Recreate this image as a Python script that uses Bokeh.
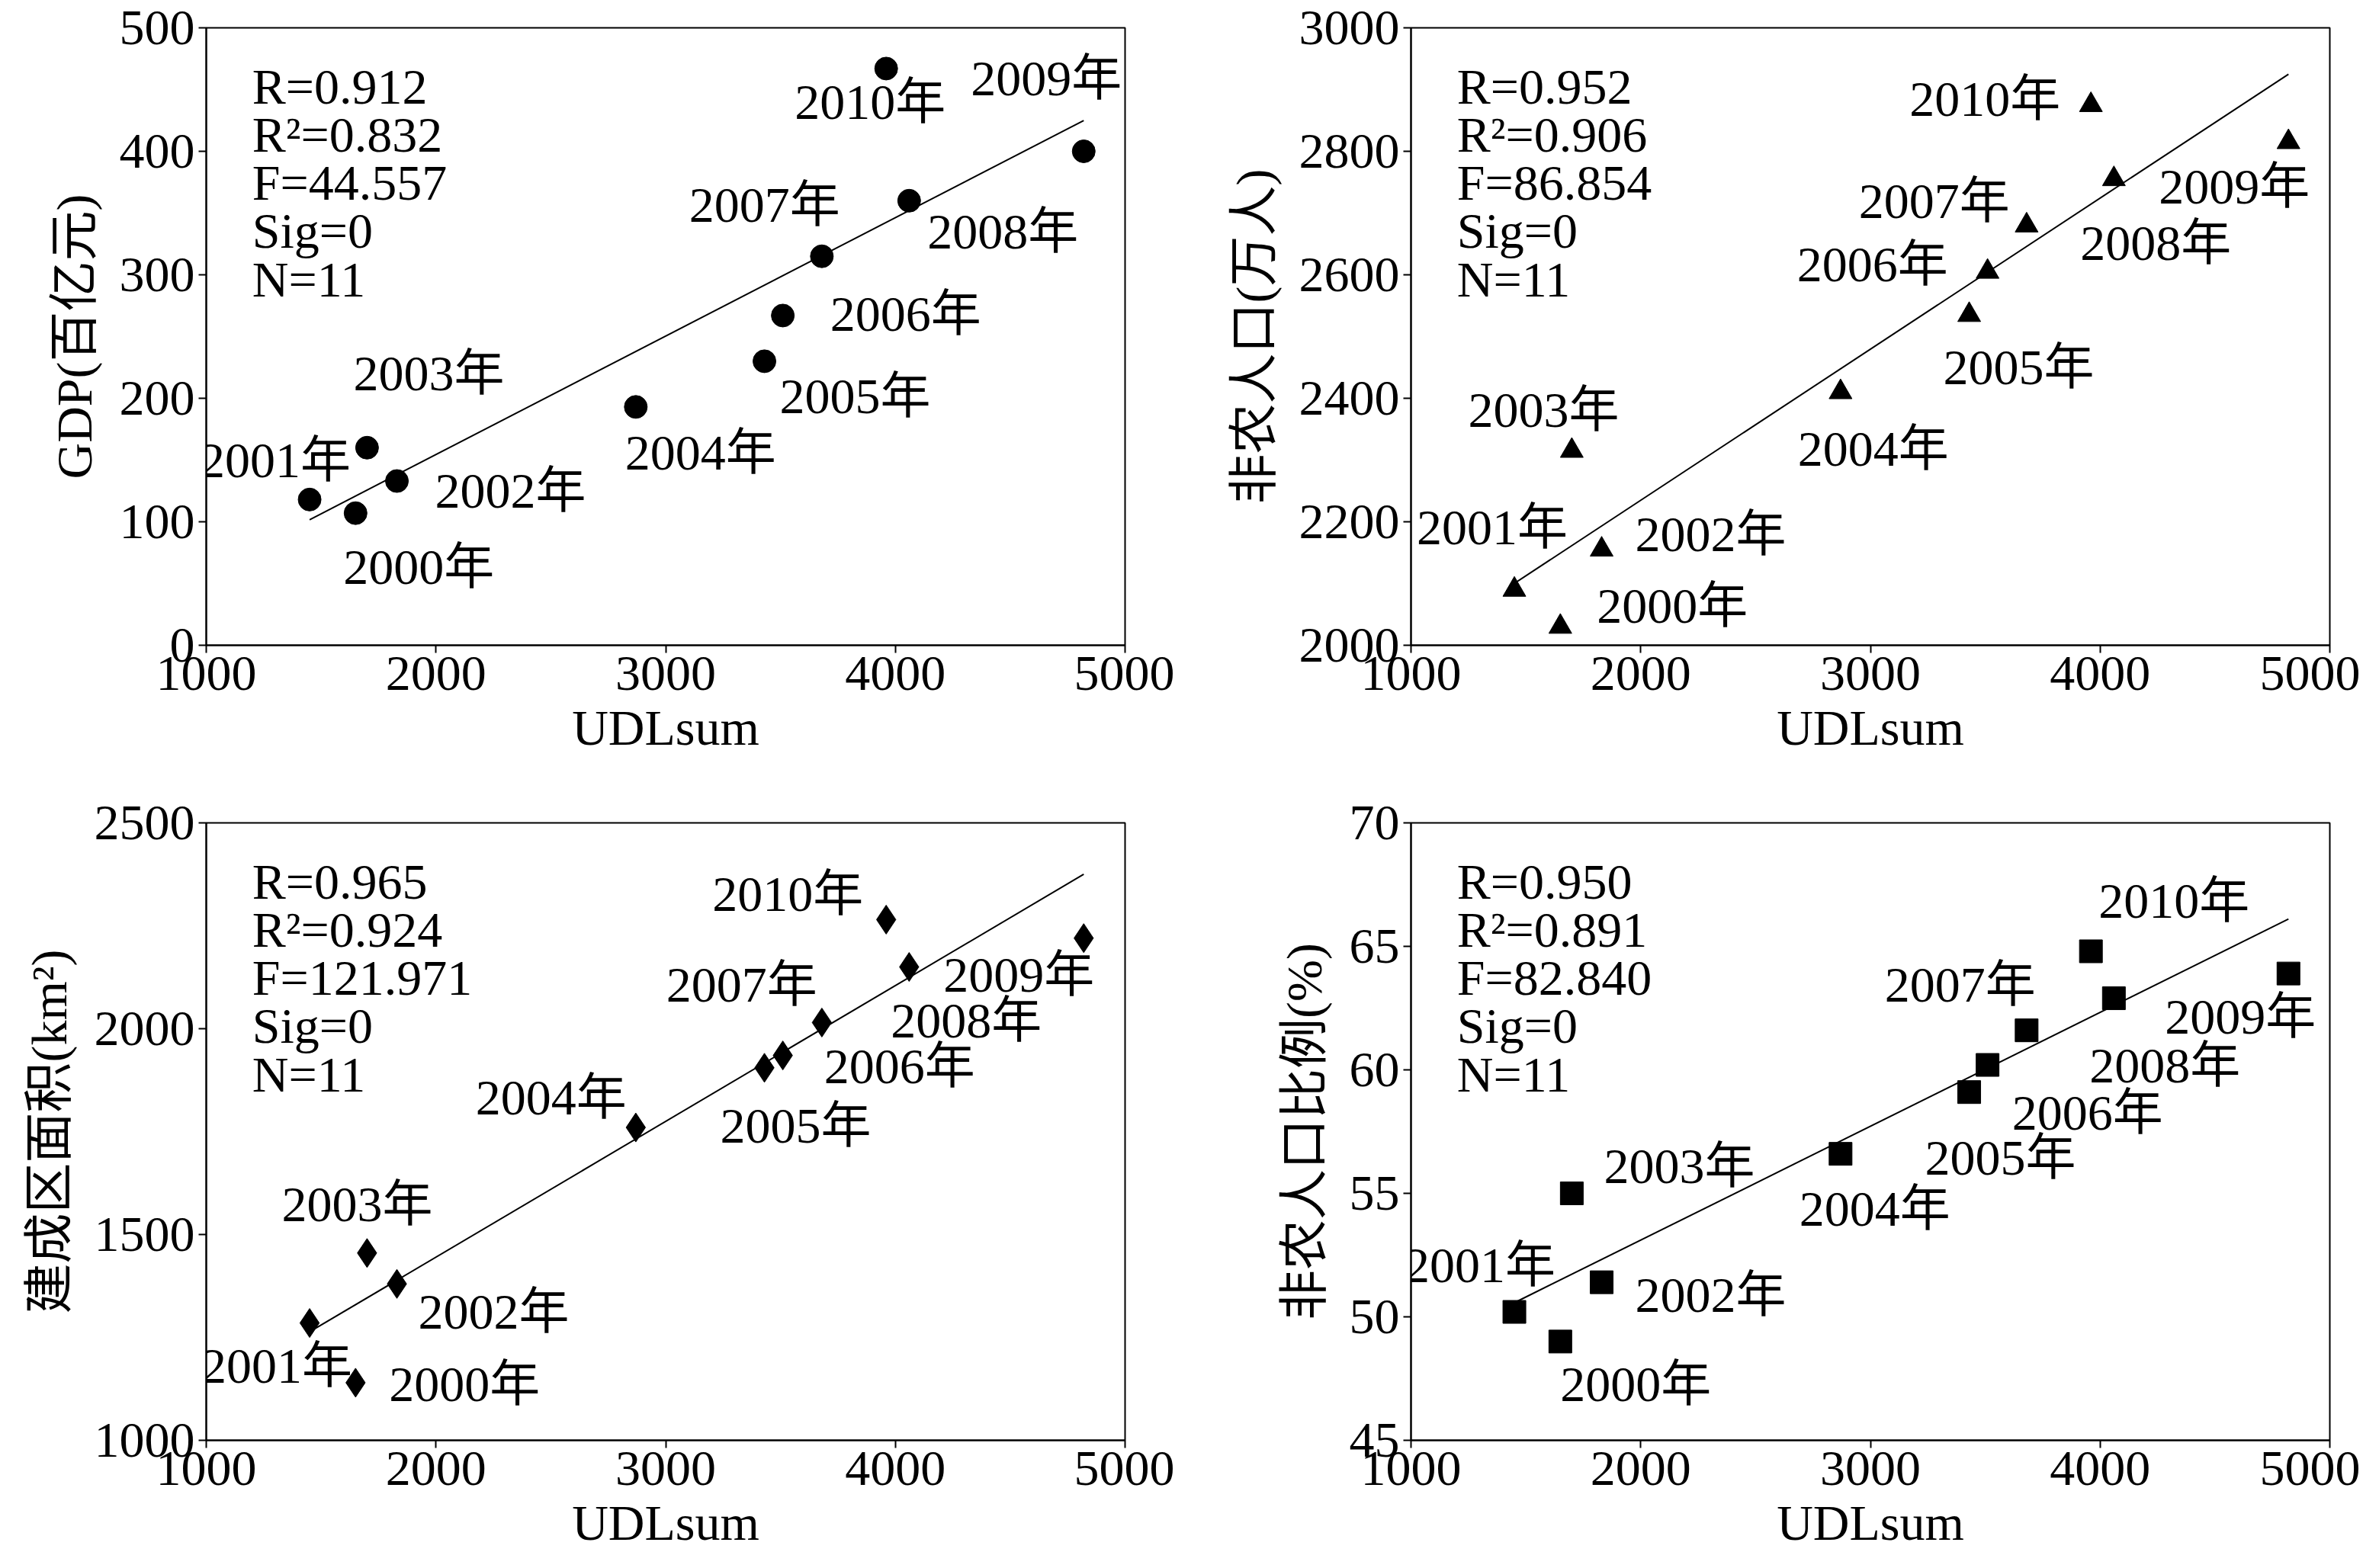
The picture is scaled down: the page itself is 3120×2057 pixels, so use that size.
import numpy as np
from bokeh.plotting import figure
from bokeh.layouts import column, row
from bokeh.models import ColumnDataSource, FixedTicker
from bokeh.core.properties import value
from bokeh.embed import file_html
from bokeh.resources import INLINE

years = ["2000年", "2001年", "2002年", "2003年", "2004年", "2005年", "2006年", "2007年", "2008年", "2009年", "2010年"]
udl = [1650, 1450, 1830, 1700, 2870, 3430, 3510, 3680, 4060, 4820, 3960]
gdp = [107, 118, 133, 160, 193, 230, 267, 315, 360, 400, 467]
pop = [2030, 2090, 2155, 2315, 2410, 2535, 2605, 2680, 2755, 2815, 2875]
built = [1140, 1285, 1380, 1455, 1760, 1905, 1935, 2015, 2150, 2220, 2265]
ratio = [49.0, 50.2, 51.4, 55.0, 56.6, 59.1, 60.2, 61.6, 62.9, 63.9, 64.8]

stats = [
    ["R=0.912", "R²=0.832", "F=44.557", "Sig=0", "N=11"],
    ["R=0.952", "R²=0.906", "F=86.854", "Sig=0", "N=11"],
    ["R=0.965", "R²=0.924", "F=121.971", "Sig=0", "N=11"],
    ["R=0.950", "R²=0.891", "F=82.840", "Sig=0", "N=11"],
]

off1 = [(-8, 35), (-72, -26), (25, 6), (-9, -49), (-7, 30), (10, 23), (31, -1), (-87, -34), (12, 20), (-74, -48), (-60, 22)]
off2 = [(24, -14), (-64, -41), (22, -10), (-68, -27), (-28, 37), (-17, 34), (-125, -5), (-110, -16), (-22, 42), (-85, 29), (-119, -4)]
off3 = [(22, 1), (-71, 28), (14, 18), (-56, -32), (-105, -20), (-29, 38), (27, 7), (-102, -25), (-12, 35), (-92, 24), (-114, -17)]
off4 = [(0, 28), (-72, -31), (22, 8), (21, -18), (-27, 36), (-29, 43), (16, 31), (-93, -30), (-16, 44), (-81, 28), (5, -33)]

FONT = "Liberation Serif, Noto Sans CJK SC"
FS = "66px"

def panel(yvals, ylabel, yr, yticks, marker, offs, st, left, right, top, bottom):
    p = figure(frame_width=1205, frame_height=810, x_range=(1000, 5000), y_range=yr,
               output_backend="svg", toolbar_location=None,
               min_border_left=left, min_border_right=right, min_border_top=top, min_border_bottom=bottom)
    p.xgrid.visible = False
    p.ygrid.visible = False
    p.outline_line_color = "black"
    p.outline_line_width = 2
    p.xaxis.ticker = FixedTicker(ticks=[1000, 2000, 3000, 4000, 5000])
    p.yaxis.ticker = FixedTicker(ticks=yticks)
    p.xaxis.axis_label = "UDLsum"
    p.yaxis.axis_label = ylabel
    for ax in (p.xaxis, p.yaxis):
        ax.major_label_text_font = FONT
        ax.major_label_text_font_size = FS
        ax.axis_label_text_font = FONT
        ax.axis_label_text_font_size = FS
        ax.axis_label_text_font_style = "normal"
        ax.axis_line_color = "black"
        ax.axis_line_width = 2
        ax.major_tick_line_color = "black"
        ax.major_tick_line_width = 2
        ax.major_tick_in = 0
        ax.major_tick_out = 10
        ax.minor_tick_line_color = None
        ax.major_label_text_color = "black"
        ax.axis_label_text_color = "black"
    p.xaxis.axis_label_standoff = 10
    p.yaxis.axis_label_standoff = 20
    x = np.array(udl, float); y = np.array(yvals, float)
    k, b = np.polyfit(x, y, 1)
    xs = np.array([x.min(), x.max()])
    p.line(xs, k * xs + b, line_color="black", line_width=2)
    p.scatter(x, y, marker=marker, size=30 if marker != "diamond" else 38, fill_color="black", line_color="black")
    src = ColumnDataSource(dict(x=udl, y=yvals, t=years,
                                dx=[o[0] * 2 for o in offs], dy=[o[1] * 2 for o in offs]))
    p.text("x", "y", text="t", source=src, x_offset="dx", y_offset="dy",
           text_font=value(FONT), text_font_size=FS, text_align="left",
           text_baseline="middle", text_color="black")
    y0, y1 = yr
    sx = [1000 + 0.05 * 4000] * len(st)
    sy = [y0 + (0.905 - 0.078 * i) * (y1 - y0) for i in range(len(st))]
    p.text(sx, sy, text=st, text_font=value(FONT), text_font_size=FS,
           text_align="left", text_baseline="middle", text_color="black")
    return p

p1 = panel(gdp, "GDP(百亿元)", (0, 500), [0, 100, 200, 300, 400, 500], "circle", off1, stats[0], 270, 65, 36, 140)
p2 = panel(pop, "非农人口(万人)", (2000, 3000), [2000, 2200, 2400, 2600, 2800, 3000], "triangle", off2, stats[1], 310, 40, 36, 140)
p3 = panel(built, "建成区面积(km²)", (1000, 2500), [1000, 1500, 2000, 2500], "diamond", off3, stats[2], 270, 65, 86, 110)
p4 = panel(ratio, "非农人口比例(%)", (45, 70), [45, 50, 55, 60, 65, 70], "square", off4, stats[3], 310, 40, 86, 110)

layout = column(row(p1, p2, spacing=0), row(p3, p4, spacing=0), spacing=0)
open("out.html", "w").write(file_html(layout, INLINE))
